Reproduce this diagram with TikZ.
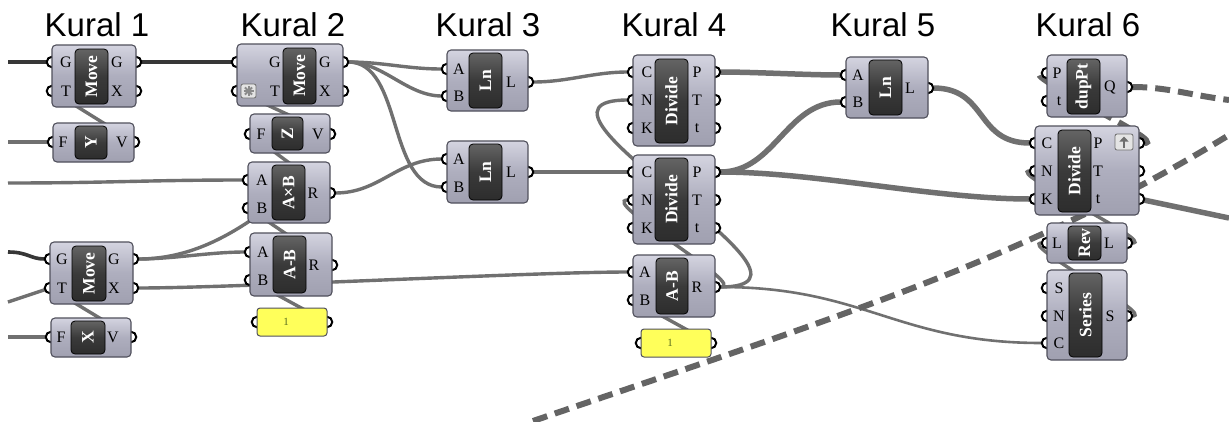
\documentclass[tikz,border=0pt]{standalone}
\usepackage{graphicx}
\usepackage{fontspec}
\setmainfont{Liberation Serif}
\newfontfamily\titlefont{Liberation Sans}
\usetikzlibrary{fit,arrows.meta,calc}
\pgfdeclarelayer{bg}
\pgfdeclarelayer{ports}
\pgfdeclarelayer{fg}
\pgfsetlayers{bg,ports,main,fg}
\definecolor{wirec}{RGB}{112,112,112}
\definecolor{darkwirec}{RGB}{55,55,55}
\definecolor{dashc}{RGB}{100,100,100}
\definecolor{boxtop}{RGB}{212,212,224}
\definecolor{boxmid}{RGB}{174,174,190}
\definecolor{boxbot}{RGB}{160,160,176}
\definecolor{boxedge}{RGB}{80,80,92}
\definecolor{coretop}{RGB}{100,100,100}
\definecolor{coremid}{RGB}{58,58,58}
\definecolor{corebot}{RGB}{45,45,45}
\definecolor{panelc}{RGB}{255,255,90}
\definecolor{paneltextc}{RGB}{90,110,30}
\definecolor{iconfill}{RGB}{228,228,228}
\definecolor{iconedge}{RGB}{110,110,110}
\tikzset{
  title/.style={anchor=base, inner sep=0pt, font=\titlefont\fontsize{33}{36}\selectfont},
  gbox/.style={draw=boxedge, line width=1.1pt, rounded corners=4pt, top color=boxtop, bottom color=boxbot, middle color=boxmid, inner sep=0pt, outer sep=0pt},
  gcore/.style={draw=black, line width=0.8pt, rounded corners=4pt, top color=coretop, bottom color=corebot, middle color=coremid, inner sep=0pt, outer sep=0pt},
  gname/.style={text=white, inner sep=0pt, font=\bfseries\fontsize{17.5}{17.5}\selectfont},
  port/.style={circle, draw=black, line width=2pt, fill=white, minimum size=10.5pt, inner sep=0pt, outer sep=0pt},
  plabel/.style={inner sep=0pt, font=\fontsize{16}{16}\selectfont},
  panel/.style={draw=boxedge, line width=1pt, rounded corners=3pt, fill=panelc, inner sep=0pt, outer sep=0pt},
  paneltext/.style={inner sep=0pt, text=paneltextc, font=\fontsize{11}{11}\selectfont},
  iconbox/.style={draw=iconedge, line width=0.8pt, rounded corners=2pt, fill=iconfill, inner sep=0pt},
  starline/.style={draw=iconedge!80, line width=2pt},
  iconarrow/.style={-{Triangle[length=5pt,width=9pt]}, line width=2.6pt, draw=iconedge},
  wire/.style={draw=wirec, line width=3.4pt},
  thinwire/.style={draw=wirec, line width=2.6pt},
  thickwire/.style={draw=wirec, line width=5.5pt},
  darkwire/.style={draw=darkwirec, line width=3.6pt},
  dashwire/.style={draw=dashc, line width=6pt, dash pattern=on 15pt off 8pt}
}
\newcommand\gpt[3]{\begin{pgfonlayer}{ports}\node[port] (#1) at (#2,#3) {};\end{pgfonlayer}}
\newcommand\gport[5]{\gpt{#1}{#2}{#3}\begin{pgfonlayer}{fg}\node[plabel] (#1-lbl) at (#5,#3) {#4};\end{pgfonlayer}}
\newcommand\gbox[5]{\node[gbox, fit={(#2,#3) (#4,#5)}] (#1) {};}
\newcommand\gcore[6]{\node[gcore, fit={(#2,#3) (#4,#5)}] (#1-core) {};\begin{pgfonlayer}{fg}\node[gname] (#1-name) at (#1-core.center) {\rotatebox{90}{#6}};\end{pgfonlayer}}
\begin{document}
\begin{tikzpicture}[x=1pt,y=-1pt]
\useasboundingbox (0,0) rectangle (1229,421);
\begin{pgfonlayer}{bg}\fill[white] (0,0) rectangle (1229,421);\end{pgfonlayer}
% titles
\node[title] (k1) at (97,36) {Kural 1};
\node[title] (k2) at (293,36) {Kural 2};
\node[title] (k3) at (488,36) {Kural 3};
\node[title] (k4) at (674,36) {Kural 4};
\node[title] (k5) at (883,36) {Kural 5};
\node[title] (k6) at (1088,36) {Kural 6};
% ---- Kural 1
\gport{m1-iG}{52}{62}{G}{66}
\gport{m1-iT}{52}{91}{T}{66}
\gport{m1-oG}{136}{62}{G}{117}
\gport{m1-oX}{136}{91}{X}{117}
\gbox{m1}{52}{45}{136}{107}
\gcore{m1}{75}{49}{108}{104}{Move}
\gport{y1-iF}{53}{142}{F}{63}
\gport{y1-oV}{134}{142}{V}{122}
\gbox{y1}{53}{123}{134}{162}
\gcore{y1}{75}{126}{107}{159}{Y}
\gport{m3-iG}{50}{259}{G}{62}
\gport{m3-iT}{50}{288}{T}{62}
\gport{m3-oG}{133}{259}{G}{114}
\gport{m3-oX}{133}{288}{X}{114}
\gbox{m3}{50}{242}{133}{304}
\gcore{m3}{72}{246}{106}{301}{Move}
\gport{x1-iF}{51}{337}{F}{61}
\gport{x1-oV}{131}{337}{V}{113}
\gbox{x1}{51}{318}{131}{357}
\gcore{x1}{71}{321}{105}{354}{X}
% ---- Kural 2
\gport{m2-iG}{237}{62}{G}{275}
\gport{m2-iT}{237}{91}{T}{275}
\gport{m2-oG}{343}{62}{G}{325}
\gport{m2-oX}{343}{91}{X}{325}
\gbox{m2}{237}{44}{343}{106}
\gcore{m2}{283}{48}{316}{104}{Move}
\node[iconbox, fit={(241,84) (256,98)}] (m2-star) {};
\begin{pgfonlayer}{fg}
\draw[starline] (m2-star.center) +(-5,0) -- +(5,0);
\draw[starline] (m2-star.center) +(0,-5) -- +(0,5);
\draw[starline] (m2-star.center) +(-3.6,-3.6) -- +(3.6,3.6);
\draw[starline] (m2-star.center) +(-3.6,3.6) -- +(3.6,-3.6);
\end{pgfonlayer}
\gport{z-iF}{250}{134}{F}{261}
\gport{z-oV}{330}{134}{V}{318}
\gbox{z}{250}{114}{330}{153}
\gcore{z}{272}{117}{303}{150}{Z}
\gport{axb-iA}{248}{180}{A}{262}
\gport{axb-iB}{248}{208}{B}{262}
\gport{axb-oR}{330}{193}{R}{313}
\gbox{axb}{248}{162}{330}{223}
\gcore{axb}{272}{165}{305}{220}{A×B}
\gport{amb2-iA}{250}{252}{A}{263}
\gport{amb2-iB}{250}{280}{B}{263}
\gport{amb2-oR}{332}{265}{R}{314}
\gbox{amb2}{250}{233}{332}{296}
\gcore{amb2}{273}{236}{306}{293}{A-B}
\gpt{one2-i}{257}{322}
\gpt{one2-o}{327}{322}
\node[panel, fit={(257,308) (327,336)}] (one2) {};
\node[paneltext] (one2-val) at (286,322) {1};
% ---- Kural 3
\gport{ln1-iA}{447}{69}{A}{459}
\gport{ln1-iB}{447}{96}{B}{459}
\gport{ln1-oL}{528}{82}{L}{511}
\gbox{ln1}{447}{50}{528}{111}
\gcore{ln1}{469}{53}{502}{108}{Ln}
\gport{ln2-iA}{447}{159}{A}{459}
\gport{ln2-iB}{447}{187}{B}{459}
\gport{ln2-oL}{528}{172}{L}{511}
\gbox{ln2}{447}{141}{528}{203}
\gcore{ln2}{469}{144}{502}{200}{Ln}
% ---- Kural 4
\gport{div1-iC}{633}{72}{C}{647}
\gport{div1-iN}{633}{100}{N}{647}
\gport{div1-iK}{633}{128}{K}{647}
\gport{div1-oP}{715}{72}{P}{697}
\gport{div1-oT}{715}{100}{T}{697}
\gport{div1-ot}{715}{128}{t}{697}
\gbox{div1}{633}{55}{715}{146}
\gcore{div1}{655}{59}{688}{143}{Divide}
\gport{div2-iC}{633}{172}{C}{647}
\gport{div2-iN}{633}{200}{N}{647}
\gport{div2-iK}{633}{228}{K}{647}
\gport{div2-oP}{715}{172}{P}{697}
\gport{div2-oT}{715}{200}{T}{697}
\gport{div2-ot}{715}{228}{t}{697}
\gbox{div2}{633}{155}{715}{244}
\gcore{div2}{655}{158}{688}{241}{Divide}
\gport{amb4-iA}{633}{272}{A}{645}
\gport{amb4-iB}{633}{300}{B}{645}
\gport{amb4-oR}{715}{287}{R}{697}
\gbox{amb4}{633}{255}{715}{317}
\gcore{amb4}{656}{258}{688}{314}{A-B}
\gpt{one4-i}{641}{343}
\gpt{one4-o}{711}{343}
\node[panel, fit={(641,329) (711,357)}] (one4) {};
\node[paneltext] (one4-val) at (670,343) {1};
% ---- Kural 5
\gport{ln5-iA}{846}{75}{A}{858}
\gport{ln5-iB}{846}{102}{B}{858}
\gport{ln5-oL}{928}{88}{L}{910}
\gbox{ln5}{846}{57}{928}{118}
\gcore{ln5}{869}{60}{902}{115}{Ln}
% ---- Kural 6
\gport{dup-iP}{1047}{73}{P}{1057}
\gport{dup-it}{1047}{101}{t}{1059}
\gport{dup-oQ}{1127}{87}{Q}{1110}
\gbox{dup}{1047}{55}{1127}{117}
\gcore{dup}{1067}{59}{1100}{114}{dupPt}
\gport{div6-iC}{1035}{143}{C}{1047}
\gport{div6-iN}{1035}{171}{N}{1047}
\gport{div6-iK}{1035}{199}{K}{1047}
\gport{div6-oP}{1139}{143}{P}{1098}
\gport{div6-oT}{1139}{171}{T}{1098}
\gport{div6-ot}{1139}{199}{t}{1098}
\gbox{div6}{1035}{126}{1139}{215}
\gcore{div6}{1058}{130}{1091}{212}{Divide}
\node[iconbox, fit={(1115,134) (1133,150)}] (div6-icon) {};
\begin{pgfonlayer}{fg}
\draw[iconarrow] (div6-icon.center) +(0,5.5) -- +(0,-5.5);
\end{pgfonlayer}
\gport{rev-iL}{1047}{243}{L}{1057}
\gport{rev-oL}{1127}{243}{L}{1109}
\gbox{rev}{1047}{223}{1127}{263}
\gcore{rev}{1068}{226}{1101}{260}{Rev}
\gport{ser-iS}{1047}{288}{S}{1059}
\gport{ser-iN}{1047}{316}{N}{1059}
\gport{ser-iC}{1047}{343}{C}{1059}
\gport{ser-oS}{1127}{316}{S}{1110}
\gbox{ser}{1047}{270}{1127}{360}
\gcore{ser}{1069}{273}{1102}{357}{Series}
% ---- free wire ends
\coordinate (eA) at (8,62);
\coordinate (eB) at (8,142);
\coordinate (eC) at (8,183);
\coordinate (eD) at (8,252);
\coordinate (eE) at (8,302);
\coordinate (eF) at (8,337);
\coordinate (eG) at (1229,100);
\coordinate (eH) at (1229,218);
\coordinate (eI) at (533,421);
\coordinate (eJ) at (1229,135);
% ---- wires
\begin{pgfonlayer}{bg}
\draw[darkwire] (eA) -- (m1-iG);
\draw[darkwire] (m1-oG) -- (m2-iG);
\draw[wire] (eB) -- (y1-iF);
\draw[wire] (y1-oV) -- (m1-iT);
\draw[wire] (eC) .. controls +(100,0) and +(-100,0) .. (axb-iA);
\draw[wire] (z-oV) -- (m2-iT);
\draw[wire] (axb-oR) -- (z-iF);
\draw[wire] (axb-oR) .. controls +(50,0) and +(-50,0) .. (ln2-iA);
\draw[wire] (m2-oG) .. controls +(40,0) and +(-40,0) .. (ln1-iA);
\draw[wire] (m2-oG) .. controls +(40,0) and +(-40,0) .. (ln1-iB);
\draw[wire] (m2-oG) .. controls +(60,0) and +(-60,0) .. (ln2-iB);
\draw[darkwire] (eD) .. controls +(20,0) and +(-20,0) .. (m3-iG);
\draw[wire] (eE) -- (m3-iT);
\draw[wire] (eF) -- (x1-iF);
\draw[wire] (x1-oV) -- (m3-iT);
\draw[wire] (m3-oG) .. controls +(40,0) and +(-40,0) .. (amb2-iA);
\draw[wire] (m3-oG) .. controls +(70,0) and +(-40,30) .. (axb.center);
\draw[wire] (m3-oX) .. controls +(100,0) and +(-100,0) .. (amb4-iA);
\draw[wire] (amb2-oR) -- (axb-iB);
\draw[wire] (one2-o) -- (amb2-iB);
\draw[wire] (ln1-oL) .. controls +(40,0) and +(-40,0) .. (div1-iC);
\draw[wire] (ln2-oL) -- (div2-iC);
\draw[wire] (amb4-oR) .. controls +(140,0) and +(-140,0) .. (div1-iN);
\draw[wire] (amb4-oR) .. controls +(35,0) and +(-35,0) .. (div2-iN);
\draw[wire] (one4-o) -- (amb4-iB);
\draw[thickwire] (div1-oP) .. controls +(40,0) and +(-40,0) .. (ln5-iA);
\draw[thickwire] (div2-oP) .. controls +(60,0) and +(-60,0) .. (ln5-iB);
\draw[thickwire] (div2-oP) .. controls +(100,0) and +(-100,0) .. (div6-iK);
\draw[thickwire] (ln5-oL) .. controls +(60,0) and +(-60,0) .. (div6-iC);
\draw[thinwire] (amb4-oR) .. controls +(150,0) and +(-150,0) .. (ser-iC);
\draw[dashwire] (dup-oQ) .. controls +(40,0) and +(-40,-5) .. (eG);
\draw[dashwire] (div6-oP) .. controls +(30,0) and +(-30,0) .. (dup-iP);
\draw[wire] (rev-oL) .. controls +(30,0) and +(-30,0) .. (div6-iN);
\draw[wire] (ser-oS) .. controls +(30,0) and +(-30,0) .. (rev-iL);
\draw[thickwire] (div6-ot) -- (eH);
\draw[dashwire] (eI) .. controls (840,316) and (1029,258) .. (eJ);
\end{pgfonlayer}
\end{tikzpicture}
\end{document}
